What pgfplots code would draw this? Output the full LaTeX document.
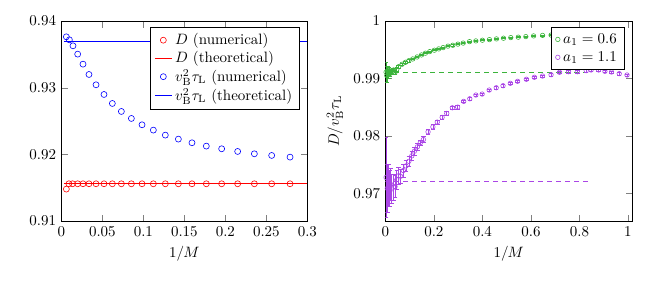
\documentclass[border=0pt]{standalone}
\usepackage{pgfplots}
\pgfplotsset{compat=1.18}
\usepackage{pgfplotstable}
\definecolor{mygreen}{RGB}{60,180,60}
\definecolor{mypurple}{RGB}{170,70,230}

\pgfplotstableread{
x y
0.0061 0.93765
0.0098 0.9372
0.0142 0.9363
0.0199 0.93505
0.0264 0.93355
0.0337 0.9320
0.0423 0.93045
0.0520 0.9290
0.0622 0.92765
0.0732 0.92645
0.0854 0.9254
0.0984 0.92445
0.1122 0.92365
0.1268 0.9229
0.1427 0.9223
0.1593 0.92175
0.1768 0.92125
0.1955 0.92085
0.2150 0.92045
0.2354 0.9201
0.2565 0.91985
0.2789 0.9196
}\bluenum

\pgfplotstableread{
x y
0.0061 0.9148
0.0092 0.91560
0.0136 0.91560
0.0199 0.91560
0.0264 0.91560
0.0337 0.91560
0.0423 0.91560
0.0520 0.91560
0.0622 0.91560
0.0732 0.91560
0.0854 0.91560
0.0984 0.91560
0.1122 0.91560
0.1268 0.91560
0.1427 0.91560
0.1593 0.91560
0.1768 0.91560
0.1955 0.91560
0.2150 0.91560
0.2354 0.91560
0.2565 0.91560
0.2789 0.91560
}\rednum

\pgfplotstableread{
x y e
0.003 0.9911 0.0018
0.006 0.9905 0.0011
0.009 0.9913 0.0009
0.012 0.9908 0.0007
0.015 0.9914 0.0006
0.019 0.9909 0.0005
0.023 0.9913 0.0004
0.028 0.9911 0.0004
0.034 0.9915 0.0003
0.040 0.9911 0.0003
0.047 0.9916 0.0003
0.055 0.99208 0.0002
0.069 0.9925 0.0002
0.083 0.99284 0.0002
0.097 0.99312 0.0002
0.113 0.99342 0.0001
0.131 0.99377 0.0001
0.149 0.99412 0.0001
0.165 0.99442 0.0001
0.183 0.9947 0.0001
0.202 0.99494 0.0001
0.220 0.99517 0.0001
0.238 0.99539 0.0001
0.258 0.99565 0.0001
0.278 0.99580 0.0001
0.299 0.99600 0.0001
0.321 0.99618 0.0001
0.347 0.99644 0.0001
0.373 0.99656 0.0001
0.400 0.99668 0.0001
0.429 0.99679 0.0001
0.458 0.99691 0.0001
0.487 0.99703 0.0001
0.517 0.99714 0.0001
0.548 0.99721 0.0001
0.579 0.99731 0.0001
0.611 0.99743 0.0001
0.648 0.99752 0.0001
0.683 0.99758 0.0001
0.718 0.99766 0.0001
0.755 0.99772 0.0001
0.791 0.99778 0.0001
0.828 0.99783 0.0001
0.848 0.99786 0.0001
0.879 0.99790 0.0001
0.905 0.99793 0.0001
0.932 0.99796 0.0001
}\greendata

\pgfplotstableread{
x y e
0.003 0.9728 0.0070
0.008 0.9709 0.0042
0.013 0.9714 0.0036
0.017 0.9709 0.0032
0.022 0.9716 0.0028
0.026 0.9708 0.0025
0.033 0.9711 0.0022
0.040 0.9712 0.0019
0.047 0.9724 0.0017
0.055 0.9731 0.0015
0.063 0.9730 0.0013
0.074 0.9740 0.0011
0.085 0.9748 0.0010
0.097 0.9756 0.0009
0.109 0.97655 0.0008
0.120 0.97737 0.0007
0.132 0.97812 0.0006
0.144 0.97881 0.0005
0.157 0.97940 0.0005
0.176 0.98073 0.0004
0.196 0.98160 0.0004
0.214 0.98243 0.0003
0.234 0.98325 0.0003
0.253 0.98394 0.0003
0.276 0.98492 0.0003
0.298 0.98504 0.0003
0.323 0.98604 0.0002
0.348 0.98649 0.0002
0.373 0.98714 0.0002
0.399 0.98731 0.0002
0.428 0.98801 0.0002
0.457 0.98841 0.0002
0.485 0.98876 0.0002
0.515 0.98918 0.0002
0.545 0.98953 0.0002
0.581 0.98988 0.0002
0.614 0.99023 0.0002
0.648 0.99045 0.0002
0.683 0.99068 0.0002
0.718 0.99110 0.0002
0.755 0.99120 0.0002
0.791 0.99120 0.0002
0.828 0.99138 0.0002
0.848 0.99150 0.0002
0.879 0.99150 0.0002
0.905 0.99127 0.0002
0.932 0.99115 0.0002
0.964 0.99086 0.0002
0.996 0.99063 0.0002
}\purpledata

\begin{document}
\begin{tikzpicture}
\useasboundingbox (-40.9pt,-39.3pt) rectangle (399.1pt,147.4pt);
\begin{axis}[
  at={(0pt,0pt)}, anchor=south west,
  scale only axis, width=164pt, height=133.3pt,
  xmin=0, xmax=0.3, ymin=0.91, ymax=0.94,
  xtick={0,0.05,...,0.3}, ytick={0.91,0.92,0.93,0.94},
  yticklabel style={/pgf/number format/fixed,/pgf/number format/precision=2},
  xticklabel style={/pgf/number format/fixed,/pgf/number format/precision=2},
  xlabel={$1/M$},
  legend pos=north east,
  legend cell align=left,
  legend style={row sep=-1pt},
  legend image code/.code={\draw[mark repeat=2,mark phase=2,#1] plot coordinates {(0cm,0cm) (0.2cm,0cm) (0.4cm,0cm)};},
]
\addplot[only marks, mark=o, red, mark size=2pt] table[x=x,y=y] {\rednum};
\addlegendentry{$D$ (numerical)}
\addplot[red, no marks] coordinates {(0.003,0.91560) (0.3,0.91560)};
\addlegendentry{$D$ (theoretical)}
\addplot[only marks, mark=o, blue, mark size=2pt] table[x=x,y=y] {\bluenum};
\addlegendentry{$v_{\mathrm{B}}^2\tau_{\mathrm{L}}$ (numerical)}
\addplot[blue, no marks] coordinates {(0.003,0.9370) (0.3,0.9370)};
\addlegendentry{$v_{\mathrm{B}}^2\tau_{\mathrm{L}}$ (theoretical)}
\end{axis}
\begin{axis}[
  at={(216pt,0pt)}, anchor=south west,
  scale only axis, width=164.5pt, height=133.3pt,
  xmin=0, xmax=1.017, ymin=0.9652, ymax=1,
  xtick={0,0.2,...,1}, ytick={0.97,0.98,0.99,1},
  yticklabel style={/pgf/number format/fixed,/pgf/number format/precision=2},
  xlabel={$1/M$},
  ylabel={$D/v_{\mathrm{B}}^2\tau_{\mathrm{L}}$},
  legend pos=north east,
  legend cell align=left,
  legend image code/.code={\draw[#1] plot coordinates {(0cm,0cm)};},
]
\addplot[mygreen, dashed, forget plot] coordinates {(0,0.99105) (0.834,0.99105)};
\addplot[mypurple, dashed, forget plot] coordinates {(0,0.97209) (0.834,0.97209)};
\addplot[only marks, mark=o, mygreen, mark size=1.5pt,
  error bars/.cd, y dir=both, y explicit] table[x=x,y=y,y error=e] {\greendata};
\addlegendentry{$a_1=0.6$}
\addplot[only marks, mark=o, mypurple, mark size=1.5pt,
  error bars/.cd, y dir=both, y explicit] table[x=x,y=y,y error=e] {\purpledata};
\addlegendentry{$a_1=1.1$}
\end{axis}
\end{tikzpicture}
\end{document}
